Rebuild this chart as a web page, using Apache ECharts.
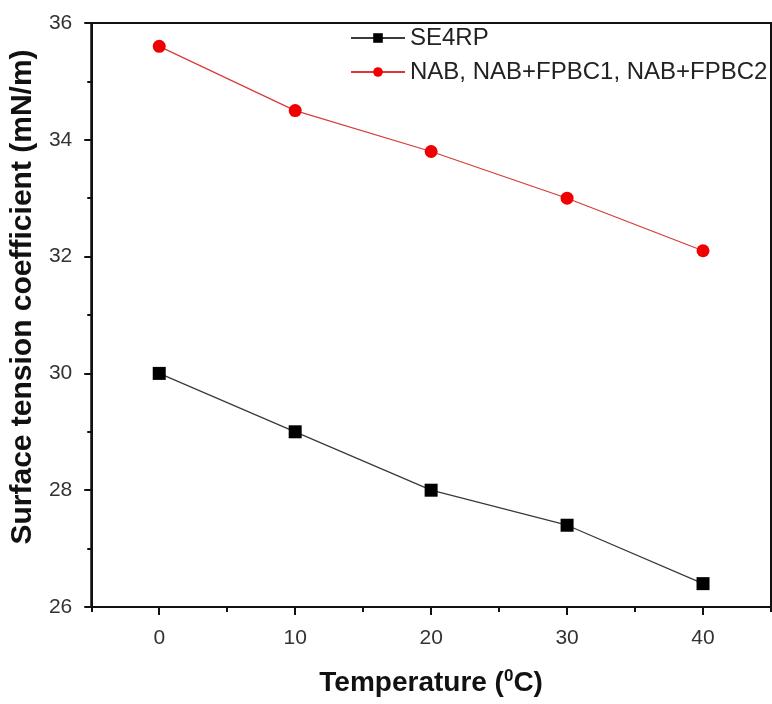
<!DOCTYPE html>
<html>
<head>
<meta charset="utf-8">
<script src="https://cdn.jsdelivr.net/npm/echarts@6/dist/echarts.min.js"></script>
<style>
  html, body { margin: 0; padding: 0; background: #fff; }
  #chart { width: 772px; height: 704px; }
</style>
</head>
<body>
<div id="chart"></div>
<script>
// Temperature (°C) at which surface tension was measured
const temperatures = [0, 10, 20, 30, 40];
// Surface tension coefficient, mN/m
const se4rp = [30.0, 29.0, 28.0, 27.4, 26.4];
const nabGroup = [35.6, 34.5, 33.8, 33.0, 32.1];
const seriesNames = ['SE4RP', 'NAB, NAB+FPBC1, NAB+FPBC2'];

const pair = (xs, ys) => xs.map((x, i) => [x, ys[i]]);

const chart = echarts.init(document.getElementById('chart'));
const font = 'Liberation Sans, Arial, sans-serif';
const ink = '#111';

chart.setOption({
  animation: false,
  backgroundColor: '#fff',
  grid: {
    left: 91, right: 1, top: 23, bottom: 97,
    show: true, borderColor: ink, borderWidth: 2
  },
  legend: {
    orient: 'vertical',
    left: 350, top: 26,
    itemWidth: 54, itemHeight: 12, itemGap: 10, padding: 0,
    textStyle: { fontFamily: font, fontSize: 24, lineHeight: 23, color: '#222' },
    data: seriesNames
  },
  xAxis: [
    {
      type: 'value', min: -5, max: 45,
      axisLine: { show: true, onZero: false, lineStyle: { color: ink, width: 2 } },
      axisTick: { show: true, inside: false, length: 8, lineStyle: { width: 2, color: ink },
        customValues: temperatures },
      axisLabel: { fontFamily: font, fontSize: 21, color: '#333', margin: 21,
        customValues: temperatures },
      splitLine: { show: false },
      name: '{t|Temperature (}{s|0}{t|C)}',
      nameLocation: 'middle', nameGap: 61,
      nameTextStyle: {
        rich: {
          t: { fontFamily: font, fontSize: 28, fontWeight: 'bold', color: ink },
          s: { fontFamily: font, fontSize: 17, fontWeight: 'bold', color: ink,
            verticalAlign: 'top', padding: [0, 0, 14, 0] }
        }
      }
    },
    {
      // half-step ticks between the labelled temperatures
      type: 'value', min: -5, max: 45, interval: 10, position: 'bottom',
      axisLine: { show: false },
      axisTick: { show: true, inside: false, length: 5, lineStyle: { width: 2, color: ink } },
      axisLabel: { show: false },
      splitLine: { show: false }
    }
  ],
  yAxis: {
    type: 'value', min: 26, max: 36, interval: 2,
    axisLine: { show: true, onZero: false, lineStyle: { color: ink, width: 2 } },
    axisTick: { show: true, inside: false, length: 7, lineStyle: { width: 2, color: ink } },
    minorTick: { show: true, splitNumber: 2, length: 4, lineStyle: { width: 2, color: ink } },
    axisLabel: { fontFamily: font, fontSize: 21, color: '#333', margin: 19 },
    splitLine: { show: false },
    name: 'Surface tension coefficient (mN/m)',
    nameLocation: 'middle', nameGap: 50,
    nameTextStyle: { fontFamily: font, fontSize: 30, fontWeight: 'bold', color: ink,
      padding: [0, 0, 0, 36] }
  },
  series: [
    {
      name: seriesNames[0], type: 'line', xAxisIndex: 0, data: pair(temperatures, se4rp),
      symbol: 'rect', symbolSize: 13,
      itemStyle: { color: '#000' },
      lineStyle: { color: '#3a3a3a', width: 1.3 }
    },
    {
      name: seriesNames[1], type: 'line', xAxisIndex: 0, data: pair(temperatures, nabGroup),
      symbol: 'circle', symbolSize: 13,
      itemStyle: { color: '#f00000' },
      lineStyle: { color: '#d83a3a', width: 1.2 }
    }
  ]
});
</script>
</body>
</html>
